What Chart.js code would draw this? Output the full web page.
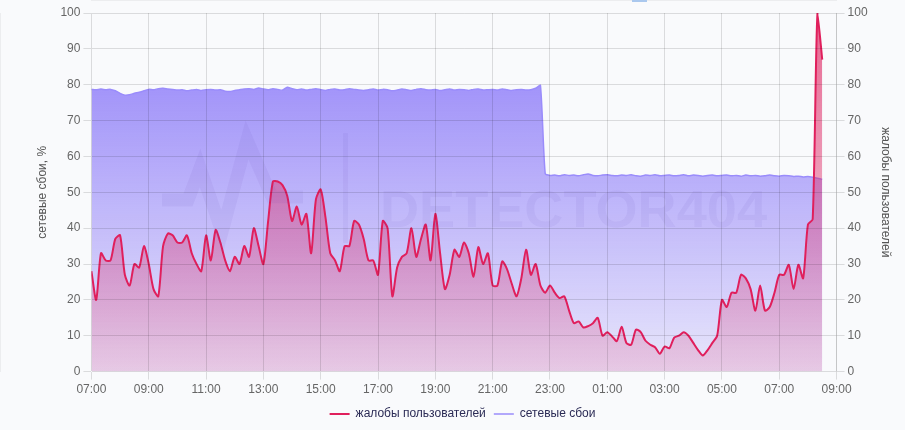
<!DOCTYPE html>
<html>
<head>
<meta charset="utf-8">
<script src="https://cdn.jsdelivr.net/npm/chart.js@4.4.1/dist/chart.umd.min.js"></script>
<style>
  html, body { margin: 0; padding: 0; background: #f9fafc; }
  #wrap { position: relative; width: 905px; height: 430px; }
  #tab { position: absolute; left: 632px; top: 0; width: 15px; height: 2px; background: #aac8ee; }
</style>
</head>
<body>
<div id="wrap">
  <canvas id="chart" width="905" height="430"></canvas>
  <div id="tab"></div>
</div>
<script>
// time axis: 10-minute points starting at 07:00
var startHour = 7;
var stepMin = 10;
var spanHours = 26;

var seriesNames = ['жалобы пользователей', 'сетевые сбои'];

// user complaints, % (right axis)
var complaints = [
  28, 20, 33, 31, 31, 37, 38, 27, 24, 30,
  29, 35, 30, 23, 21, 35, 38.5, 38, 36, 36,
  38, 33, 30, 28, 38, 31, 39.5, 36, 31, 28,
  32, 30, 35, 32, 40, 35, 30, 42, 53, 53,
  52, 49, 42, 46, 41, 44, 33, 48, 50.8, 43,
  33, 31, 28, 35, 35, 42, 41, 37, 31, 31,
  27, 42, 40, 21, 29, 32, 33, 40, 32, 37,
  41, 31, 44, 33, 23, 27, 34, 32, 36, 33,
  26.5, 34.7, 30, 33, 24, 24, 30.7, 28.6, 24.5, 21,
  26, 34, 27, 30, 24, 22, 24, 22, 20.5, 21,
  17, 13.5, 14, 12.3, 12.7, 13.5, 15, 10, 11, 9.8,
  8.5, 12.5, 8, 7.5, 11.7, 11, 8.6, 7.5, 6.8, 5,
  7, 6.5, 9.5, 10, 11, 10, 8, 6, 4.5, 6,
  8, 10, 20, 18, 22, 22, 27, 26, 23, 17,
  24, 17, 18, 22, 27, 27, 29.8, 23, 29.8, 26,
  41, 42.5, 100, 87
];

// network outages, % (left axis)
var outages = [
  78.7, 78.6, 78.8, 78.6, 78.7, 78.3, 77.6, 77.1, 77.2, 77.6,
  77.9, 78.3, 78.7, 78.6, 78.9, 79.0, 78.8, 78.7, 78.5, 78.6,
  78.3, 78.5, 78.7, 78.4, 78.6, 78.7, 78.5, 78.6, 78.2, 78.1,
  78.4, 78.6, 78.8, 78.9, 78.7, 79.1, 78.8, 78.6, 78.9, 78.7,
  78.5, 79.3, 78.9, 78.6, 78.8, 78.5, 78.7, 78.9, 78.6, 78.4,
  78.7, 78.8, 78.5, 78.6, 78.9, 78.7, 78.5, 78.4, 78.6, 78.8,
  78.5, 78.7, 78.6, 78.3, 78.5, 78.8, 78.6, 78.4, 78.7, 78.9,
  78.6, 78.5, 78.7, 78.4, 78.6, 78.8, 78.5, 78.7, 78.6, 78.4,
  78.7, 78.8, 78.5, 78.6, 78.7, 78.5, 78.8, 78.6, 78.4, 78.6,
  78.7, 78.5, 78.6, 79.0, 79.8,
  55.2, 54.7, 54.8, 54.6, 54.9, 54.7, 54.8, 54.6, 54.9, 55.1,
  54.7, 54.6, 54.8, 54.9, 54.7, 54.6, 54.8, 54.7, 54.9, 54.6,
  54.5, 54.8, 54.7, 54.9, 54.6, 54.7, 54.8, 54.6, 54.7, 54.9,
  54.6, 54.8, 54.7, 54.5, 54.7, 54.8, 54.6, 54.7, 54.8, 54.6,
  54.7, 54.5, 54.8, 54.6, 54.7, 54.5, 54.6, 54.8, 54.6, 54.5,
  54.7, 54.6, 54.4, 54.5, 54.3, 54.4, 54.2, 53.9, 53.6
];

function toPoints(arr) {
  return arr.map(function (v, i) { return { x: i * stepMin, y: v }; });
}

function timeLabel(v) {
  var m = startHour * 60 + v;
  var h = Math.floor(m / 60) % 24;
  var mm = m % 60;
  return (h < 10 ? '0' : '') + h + ':' + (mm < 10 ? '0' : '') + mm;
}

// vertical gradient over the chart area
function areaGradient(stops) {
  return function (ctx) {
    var a = ctx.chart.chartArea;
    if (!a) return null;
    var g = ctx.chart.ctx.createLinearGradient(0, a.top, 0, a.bottom);
    stops.forEach(function (s) { g.addColorStop(s[0], s[1]); });
    return g;
  };
}

// faint brand mark behind the lines
var watermark = {
  id: 'watermark',
  afterDatasetsDraw: function (chart) {
    var c = chart.ctx;
    c.save();
    c.strokeStyle = 'rgba(60,40,150,0.06)';
    c.fillStyle = 'rgba(60,40,150,0.06)';
    c.lineWidth = 13;
    c.lineJoin = 'miter';
    c.beginPath();
    c.moveTo(162, 200);
    c.lineTo(188, 200);
    c.lineTo(200, 168);
    c.lineTo(222, 232);
    c.lineTo(247, 140);
    c.lineTo(272, 197);
    c.lineTo(303, 197);
    c.stroke();
    c.fillRect(343, 133, 5, 110);
    c.font = 'bold 52px "Liberation Sans", Arial, sans-serif';
    var w = c.measureText('DETECTOR404').width;
    c.translate(380, 213);
    c.scale(387 / w, 1);
    c.fillText('DETECTOR404', 0, 0);
    c.restore();
  }
};

var tickFont = { family: '"Liberation Sans", Arial, sans-serif', size: 12 };

new Chart(document.getElementById('chart'), {
  type: 'line',
  data: {
    datasets: [
      {
        label: seriesNames[0],
        data: toPoints(complaints),
        yAxisID: 'y2',
        borderColor: '#e01f5c',
        borderWidth: 2,
        pointRadius: 0,
        tension: 0.25,
        fill: 'origin',
        backgroundColor: areaGradient([[0, 'rgba(222,40,100,0.7)'], [1, 'rgba(222,40,100,0.15)']])
      },
      {
        label: seriesNames[1],
        data: toPoints(outages),
        yAxisID: 'y',
        borderColor: '#9a8cfb',
        borderWidth: 1.5,
        pointRadius: 0,
        tension: 0.2,
        fill: 'origin',
        backgroundColor: areaGradient([[0, 'rgba(138,120,248,0.95)'], [1, 'rgba(138,120,248,0.15)']])
      }
    ]
  },
  options: {
    responsive: false,
    animation: false,
    devicePixelRatio: 1,
    layout: { padding: { left: 28, right: 8, top: 13, bottom: 0 } },
    plugins: {
      tooltip: { enabled: false },
      legend: {
        position: 'bottom',
        labels: {
          usePointStyle: true,
          pointStyle: 'line',
          pointStyleWidth: 20,
          color: '#2b2b55',
          font: tickFont,
          padding: 8
        }
      }
    },
    scales: {
      x: {
        type: 'linear',
        min: 0,
        max: spanHours * 60,
        grid: { color: 'rgba(0,0,0,0.12)', z: 1 },
        ticks: { stepSize: 120, color: '#666', font: tickFont, maxRotation: 0, callback: timeLabel }
      },
      y: {
        position: 'left',
        min: 0,
        max: 100,
        grid: { color: 'rgba(0,0,0,0.12)', z: 1 },
        ticks: { stepSize: 10, color: '#666', font: tickFont },
        title: { display: true, text: 'сетевые сбои, %', color: '#555', font: tickFont, padding: { top: 7, bottom: 8 } }
      },
      y2: {
        position: 'right',
        min: 0,
        max: 100,
        grid: { drawOnChartArea: false, color: 'rgba(0,0,0,0.12)' },
        ticks: { stepSize: 10, color: '#666', font: tickFont },
        title: { display: true, text: 'жалобы пользователей', color: '#555', font: tickFont, padding: { top: 4, bottom: 8 } }
      }
    }
  },
  plugins: [watermark]
});
</script>
</body>
</html>
